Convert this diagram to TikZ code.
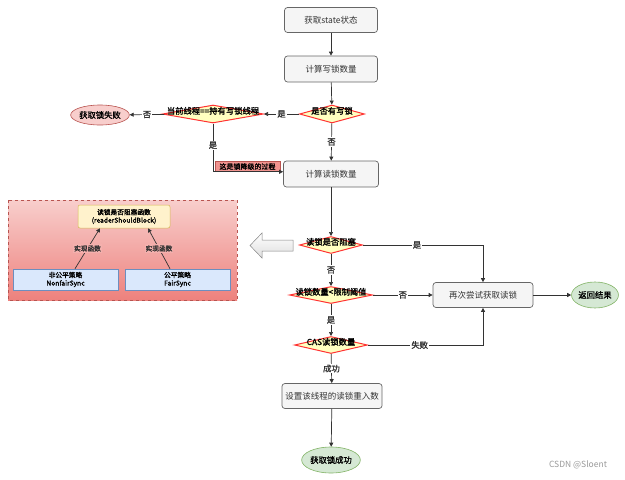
\documentclass[tikz,border=0pt]{standalone}
\usepackage{fontspec}
\setmainfont{Noto Sans CJK SC}[AutoFakeBold=1.5]
\usetikzlibrary{shapes.geometric,arrows.meta}
\definecolor{boxline}{HTML}{666666}
\definecolor{boxfill}{HTML}{F5F5F5}
\definecolor{redline}{HTML}{FF3333}
\definecolor{yellowfill}{HTML}{FFFFC0}
\definecolor{redfill}{HTML}{F8CECC}
\definecolor{redborder}{HTML}{B85450}
\definecolor{redgrad}{HTML}{EA6B66}
\definecolor{greenfill}{HTML}{D5E8D4}
\definecolor{greenborder}{HTML}{82B366}
\definecolor{bluefill}{HTML}{DAE8FC}
\definecolor{blueborder}{HTML}{6C8EBF}
\definecolor{ylwfill}{HTML}{FFF2CC}
\definecolor{ylwborder}{HTML}{D6B656}
\definecolor{linecol}{HTML}{333333}
\tikzset{
  stepbox/.style={draw=boxline, fill=boxfill, rounded corners=3pt, line width=0.7pt, font=\fontsize{8.5}{10}\selectfont, text=linecol},
  decide/.style={diamond, draw=redline, fill=yellowfill, line width=1pt, inner sep=0pt, font=\fontsize{8.3}{10}\selectfont\bfseries},
  failend/.style={ellipse, draw=redborder, fill=redfill, line width=0.6pt, inner sep=0pt, font=\fontsize{8.3}{10}\selectfont\bfseries},
  okend/.style={ellipse, draw=greenborder, fill=greenfill, line width=0.6pt, inner sep=0pt, font=\fontsize{8.3}{10}\selectfont\bfseries},
  flow/.style={draw=linecol, line width=0.7pt, -{Triangle[length=4pt,width=4pt]}},
  lab/.style={fill=white, inner sep=1pt, font=\fontsize{8.3}{10}\selectfont\bfseries, text=linecol},
  small/.style={font=\fontsize{6.7}{8}\selectfont\bfseries},
  strategy/.style={draw=blueborder, fill=bluefill, line width=0.6pt, minimum width=105pt, minimum height=21pt, inner sep=0pt, align=center, font=\fontsize{6.7}{8}\selectfont\bfseries},
}
\begin{document}
\begin{tikzpicture}[x=1pt,y=-1pt]
\useasboundingbox (0,0) rectangle (625,480);
% main column
\node[stepbox, minimum width=93pt, minimum height=25pt] (s1) at (331,20) {获取state状态};
\node[stepbox, minimum width=93pt, minimum height=26pt] (s2) at (331,69) {计算写锁数量};
\node[decide, minimum width=65pt, minimum height=18pt] (d1) at (332,114) {\smash{\makebox[0pt]{是否有写锁}}};
\node[decide, minimum width=101pt, minimum height=18pt] (d2) at (213,114) {\smash{\makebox[0pt]{当前线程==持有写锁线程}}};
\node[failend, minimum width=50pt, minimum height=20pt] (fail) at (100,115) {获取锁失败};
\node[stepbox, minimum width=95pt, minimum height=26pt] (s3) at (331,174) {计算读锁数量};
\node[decide, minimum width=63pt, minimum height=17pt] (d3) at (331,245) {\smash{\makebox[0pt]{读锁是否阻塞}}};
\node[decide, minimum width=83pt, minimum height=17pt] (d4) at (331,295) {\smash{\makebox[0pt]{读锁数量<限制阈值}}};
\node[decide, minimum width=73pt, minimum height=17pt] (d5) at (331,345) {\smash{\makebox[0pt]{CAS读锁数量}}};
\node[stepbox, minimum width=100pt, minimum height=25pt] (retry) at (483,295) {再次尝试获取读锁};
\node[okend, minimum width=46pt, minimum height=26pt] (ret) at (595,295) {返回结果};
\node[stepbox, minimum width=100pt, minimum height=25pt] (s4) at (332,396) {设置该线程的读锁重入数};
\node[okend, minimum width=48pt, minimum height=26pt] (ok) at (331,460) {获取锁成功};
% downgrade label
\node[draw=redborder, fill=redgrad!60!redfill, line width=0.5pt, minimum width=65pt, minimum height=10pt, inner sep=0pt, font=\fontsize{7}{8}\selectfont\bfseries] (downg) at (247.5,166.5) {这是锁降级的过程};
% connectors
\draw[flow] (s1) -- (s2);
\draw[flow] (s2) -- (d1);
\draw[flow] (d1) -- node[lab] {是} (d2);
\draw[flow] (d2) -- node[lab] {否} (fail);
\draw[flow] (d1) -- node[lab] {否} (s3);
\draw[flow] (d2.south) -- node[lab, pos=0.45] {是} (d2.south |- downg.south) -- (s3.west |- downg.south);
\draw[flow] (s3) -- (d3);
\draw[flow] (d3) -- node[lab] {否} (d4);
\draw[flow] (d4) -- node[lab] {是} (d5);
\draw[flow] (d5) -- node[lab] {成功} (s4);
\draw[flow] (s4) -- (ok);
\draw[flow] (d3.east) -- node[lab, pos=0.45] {是} (retry.north |- d3.east) -- (retry.north);
\draw[flow] (d4) -- node[lab] {否} (retry);
\draw[flow] (d5.east) -- node[lab, pos=0.45] {失败} (retry.south |- d5.east) -- (retry.south);
\draw[flow] (retry) -- (ret);
% hollow arrow
\draw[draw=boxline!80, top color=white, bottom color=boxfill!80!gray, line width=0.5pt]
  (293,240) -- (262,240) -- (262,233) -- (250,245.5) -- (262,258) -- (262,251) -- (293,251) -- cycle;
% container
\draw[draw=redborder, dashed, line width=0.6pt, top color=redfill, bottom color=redgrad!85] (8,200) rectangle (237,300);
\node[draw=ylwborder, fill=ylwfill, rounded corners=2pt, line width=0.5pt, minimum width=92pt, minimum height=23pt, inner sep=0pt, align=center, font=\fontsize{6.7}{8}\selectfont\bfseries] (rsb) at (124,216.5) {读锁是否阻塞函数\\(readerShouldBlock)};
\node[strategy] (nf) at (65.5,279.5) {非公平策略\\NonfairSync};
\node[strategy] (fs) at (177.5,279.5) {公平策略\\FairSync};
\draw[flow] (nf.north -| 75,0) -- node[lab, small, fill=redfill!70!redgrad] {实现函数} (rsb.south -| 100,0);
\draw[flow] (fs.north -| 170,0) -- node[lab, small, fill=redfill!70!redgrad] {实现函数} (rsb.south -| 148,0);
% watermark
\node[text=gray!80, font=\fontsize{8.5}{10}\selectfont] (wm) at (578,465) {CSDN @Sloent};
\end{tikzpicture}
\end{document}
